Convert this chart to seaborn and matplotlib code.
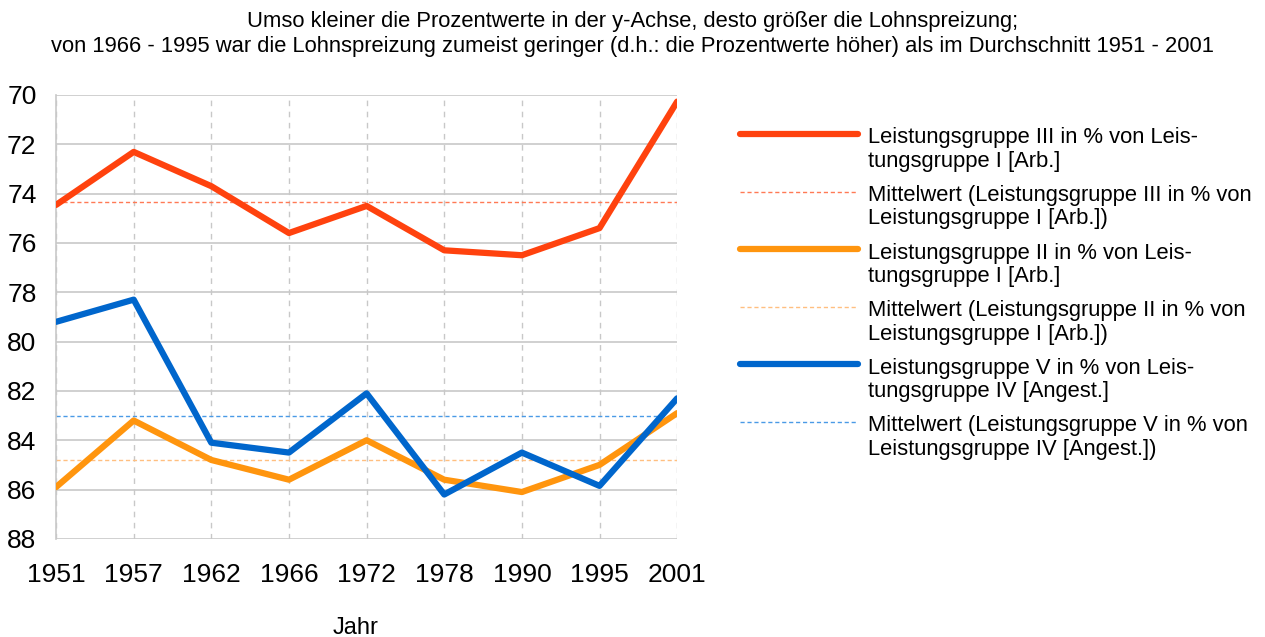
import matplotlib
matplotlib.use("Agg")
import matplotlib.pyplot as plt
import numpy as np
import pandas as pd
import seaborn as sns
from matplotlib.legend_handler import HandlerLine2D

jahre = ["1951", "1957", "1962", "1966", "1972", "1978", "1990", "1995", "2001"]
lg3_von_lg1 = [74.46, 72.31, 73.7, 75.6, 74.5, 76.3, 76.5, 75.4, 70.27]
lg2_von_lg1 = [85.9, 83.2, 84.8, 85.6, 84.0, 85.6, 86.1, 85.0, 82.9]
lg5_von_lg4 = [79.2, 78.3, 84.1, 84.5, 82.1, 86.2, 84.5, 85.85, 82.3]

namen = [
    "Leistungsgruppe III in % von Leis-\ntungsgruppe I [Arb.]",
    "Leistungsgruppe II in % von Leis-\ntungsgruppe I [Arb.]",
    "Leistungsgruppe V in % von Leis-\ntungsgruppe IV [Angest.]",
]
mittel_namen = [
    "Mittelwert (Leistungsgruppe III in % von\nLeistungsgruppe I [Arb.])",
    "Mittelwert (Leistungsgruppe II in % von\nLeistungsgruppe I [Arb.])",
    "Mittelwert (Leistungsgruppe V in % von\nLeistungsgruppe IV [Angest.])",
]
farben = ["#ff420e", "#ff950e", "#0066cc"]
mittel_farben = ["#ff7a55", "#ffbf80", "#4a9ae6"]

titel = ("Umso kleiner die Prozentwerte in der y-Achse, desto größer die Lohnspreizung;\n"
         "von 1966 - 1995 war die Lohnspreizung zumeist geringer (d.h.: die Prozentwerte höher) "
         "als im Durchschnitt 1951 - 2001")


class ObenHandler(HandlerLine2D):
    # Legendenlinie auf Hoehe der ersten Textzeile
    def create_artists(self, legend, orig_handle, xdescent, ydescent,
                       width, height, fontsize, trans):
        arts = super().create_artists(legend, orig_handle, xdescent, ydescent,
                                      width, height, fontsize, trans)
        for a in arts:
            a.set_ydata(np.asarray(a.get_ydata()) + 0.72 * fontsize)
        return arts


sns.set_style("white")
plt.rcParams["font.family"] = ["Liberation Sans", "DejaVu Sans"]
plt.rcParams["text.color"] = "black"
plt.rcParams["xtick.color"] = "black"
plt.rcParams["ytick.color"] = "black"

reihen = [lg3_von_lg1, lg2_von_lg1, lg5_von_lg4]
langs = []
for name, werte in zip(namen, reihen):
    langs.append(pd.DataFrame({"Jahr": jahre, "Wert": werte, "Reihe": name}))
daten = pd.concat(langs, ignore_index=True)
daten["x"] = daten["Jahr"].map({j: i for i, j in enumerate(jahre)})

fig = plt.figure(figsize=(12.65, 6.37), dpi=100)
ax = fig.add_axes([0.0443, 0.154, 0.491, 0.697])

handles = []
for name, mname, werte, c, mc in zip(namen, mittel_namen, reihen, farben, mittel_farben):
    teil = daten[daten["Reihe"] == name]
    sns.lineplot(data=teil, x="x", y="Wert", ax=ax, color=c, linewidth=4.5,
                 label=name, legend=False, zorder=3)
    h1 = ax.lines[-1]
    m = np.mean(werte)
    h2 = ax.axhline(m, color=mc, linewidth=1.0, linestyle=(0, (3, 2)), label=mname, zorder=2)
    handles += [h1, h2]

ax.set_xlim(0, len(jahre) - 1)
ax.set_ylim(88, 70)
ax.set_yticks(np.arange(70, 89, 2))
ax.set_xticks(range(len(jahre)))
ax.set_xticklabels(jahre)
ax.tick_params(axis="both", labelsize=19, length=11, color="#c8c8c8", width=1,
               labelcolor="black")
ax.tick_params(axis="y", pad=3)
ax.tick_params(axis="x", pad=6)

ax.yaxis.grid(True, color="#c8c8c8", linewidth=1.2)
ax.xaxis.grid(True, color="#c8c8c8", linewidth=1.0, linestyle=(0, (4, 4)))
for s in ["top", "right", "bottom"]:
    ax.spines[s].set_visible(False)
ax.spines["left"].set_color("#c8c8c8")
ax.spines["left"].set_linewidth(1.2)

ax.set_ylabel("")
ax.set_xlabel("Jahr", fontsize=17, color="black")
ax.xaxis.set_label_coords(0.483, -0.176)

fig.suptitle(titel, fontsize=15.8, y=0.982, linespacing=1.25, color="black")

leg = fig.legend(handles=handles, loc="upper left", bbox_to_anchor=(0.569, 0.831),
                 frameon=False, fontsize=15.8, handlelength=5.4, handletextpad=0.45,
                 labelspacing=0.6, handler_map={matplotlib.lines.Line2D: ObenHandler()})
for t in leg.get_texts():
    t.set_linespacing(1.15)

fig.savefig("out.png", dpi=100)
